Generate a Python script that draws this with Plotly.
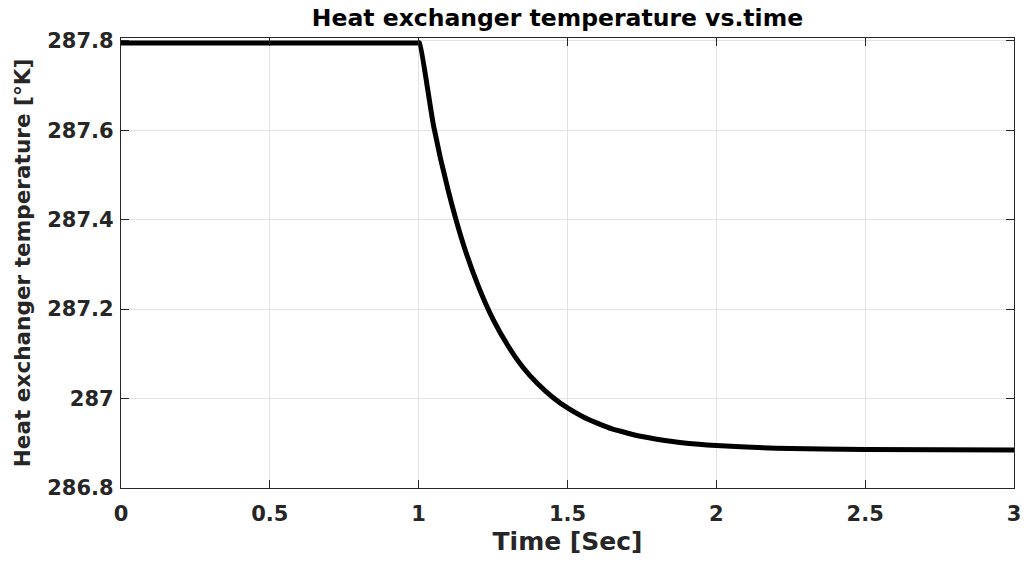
import plotly.graph_objects as go

time_s = [0.0, 0.5, 1.0, 1.003, 1.05, 1.10, 1.15, 1.20, 1.25, 1.30, 1.35, 1.40, 1.45, 1.50,
          1.55, 1.60, 1.65, 1.70, 1.75, 1.80, 1.90, 2.00, 2.20, 2.50, 3.00]
temp_k = [287.795, 287.795, 287.795, 287.795, 287.610, 287.463, 287.345, 287.252, 287.177,
          287.118, 287.070, 287.033, 287.003, 286.979, 286.960, 286.945, 286.932, 286.923,
          286.915, 286.909, 286.900, 286.895, 286.889, 286.886, 286.885]

x_ticks = [0, 0.5, 1, 1.5, 2, 2.5, 3]
x_tick_text = ["0", "0.5", "1", "1.5", "2", "2.5", "3"]
y_ticks = [286.8, 287.0, 287.2, 287.4, 287.6, 287.8]
y_tick_text = ["286.8", "287", "287.2", "287.4", "287.6", "287.8"]

fig = go.Figure()
fig.add_trace(go.Scatter(x=time_s, y=temp_k, mode="lines",
                         line=dict(color="black", width=5, shape="spline", smoothing=0.6),
                         showlegend=False))

ff = "DejaVu Sans"
axis_common = dict(showline=True, linecolor="#262626", linewidth=1.2, mirror="ticks",
                   ticks="inside", ticklen=8, tickcolor="#262626", automargin=False,
                   showgrid=True, gridcolor="#e3e3e3", gridwidth=1, zeroline=False,
                   tickfont=dict(family=ff, size=21, color="#262626", weight="bold"))

fig.update_layout(
    width=1024, height=562,
    margin=dict(l=121, r=10, t=38, b=74),
    paper_bgcolor="white", plot_bgcolor="white",
    title=dict(text="Heat exchanger temperature vs.time", x=0.5444, xanchor="center",
               y=0.968, yanchor="middle",
               font=dict(family=ff, size=23.5, color="black", weight="bold")),
    xaxis=dict(range=[0, 3], tickvals=x_ticks, ticktext=x_tick_text, ticklabelstandoff=7,
               title=dict(text="Time [Sec]", standoff=7,
                          font=dict(family=ff, size=25, color="#262626", weight="bold")),
               **axis_common),
    yaxis=dict(range=[286.8, 287.806], tickvals=y_ticks, ticktext=y_tick_text,
               ticklabelstandoff=2,
               title=dict(text="Heat exchanger temperature [°K]", standoff=10,
                          font=dict(family=ff, size=21.6, color="#262626", weight="bold")),
               **axis_common),
)
fig.write_html("out.html")
